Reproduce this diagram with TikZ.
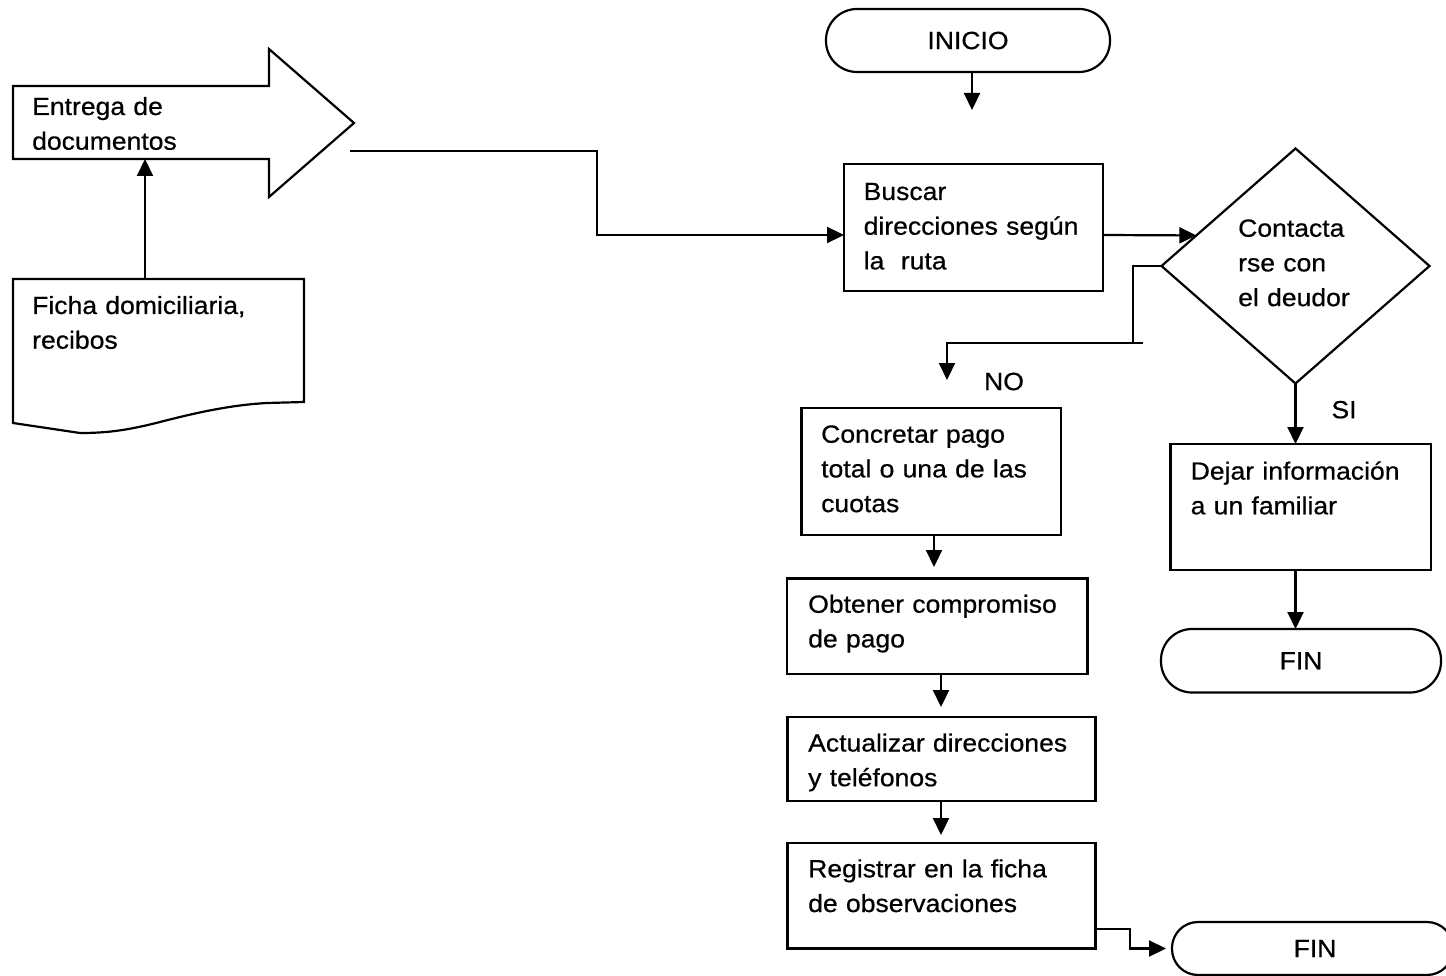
\documentclass[tikz,border=0pt]{standalone}
\usepackage{fontspec}
\setmainfont{Liberation Sans}[FakeStretch=1.07,FakeBold=0.6]
\usetikzlibrary{arrows.meta,shapes.geometric,calc}
\begin{document}
\begin{tikzpicture}[x=1pt,y=-1pt,
  font=\fontsize{24.8pt}{34.7pt}\selectfont,
  line/.style={draw, line width=2.2pt},
  flow/.style={line, -{Triangle[length=17pt,width=16pt]}},
  box/.style={draw, line width=2.2pt, inner sep=0pt, outer sep=0pt, rectangle},
  term/.style={box, rounded corners=#1},
  txt/.style={anchor=base west, inner sep=0pt, text width=300pt, align=left},
  lbl/.style={inner sep=0pt}]
\useasboundingbox (0,0) rectangle (1446,976);
\clip (0,0) rectangle (1446,976);

% block arrow "Entrega de documentos"
\draw[line, line join=miter] (13,86) -- (269,86) -- (269,49) -- (354,123)
  -- (269,197) -- (269,159) -- (13,159) -- cycle;
% document shape with wavy bottom
\draw[line] (13,279) -- (304,279) -- (304,402) -- (267,403)
  .. controls (230,405) and (195,413) .. (160,422)
  .. controls (125,431) and (105,433) .. (80,433) -- (13,423) -- cycle;

% flowchart nodes
\node[term=31pt, minimum width=284pt, minimum height=63pt] (inicio) at (968,40.5) {INICIO};
\node[box, minimum width=259pt, minimum height=127pt] (buscar) at (973.5,227.5) {};
\node[box, shape=diamond, minimum width=268pt, minimum height=235pt] (dec) at (1295.5,266) {};
\node[box, minimum width=259.6pt, minimum height=127pt] (concretar) at (931.2,471.5) {};
\node[box, minimum width=300.5pt, minimum height=95.5pt] (obtener) at (937.25,626.25) {};
\node[box, minimum width=308pt, minimum height=84pt] (actualizar) at (941.5,759) {};
\node[box, minimum width=308pt, minimum height=105.5pt] (registrar) at (941.5,895.75) {};
\node[box, minimum width=260.5pt, minimum height=126pt] (dejar) at (1300.75,507) {};
\node[term=31pt, minimum width=280pt, minimum height=63.5pt] (fin1) at (1301,660.75) {FIN};
\node[term=26pt, minimum width=281pt, minimum height=53pt] (fin2) at (1312.5,948.5) {\hspace*{5pt}FIN};

% texts
\node[txt] (t-entrega) at (32,115) {Entrega de\\documentos};
\node[txt] (t-ficha) at (32,314) {Ficha domiciliaria,\\recibos};
\node[txt] (t-buscar) at (863.5,200) {Buscar\\direcciones según\\la\ \ ruta};
\node[txt] (t-dec) at (1238,236.7) {Contacta\\rse con\\el deudor};
\node[txt] (t-concretar) at (821,442.7) {Concretar pago\\total o una de las\\cuotas};
\node[txt] (t-obtener) at (808,612.7) {Obtener compromiso\\de pago};
\node[txt] (t-actualizar) at (808,751.5) {Actualizar direcciones\\y teléfonos};
\node[txt] (t-registrar) at (808,877.3) {Registrar en la ficha\\de observaciones};
\node[txt] (t-dejar) at (1190.5,479.6) {Dejar información\\a un familiar};
\node[lbl] (no) at (1004,381.5) {NO};
\node[lbl] (si) at (1344,409.7) {SI};

% connectors
\coordinate (inicioend) at (972,110);
\draw[flow] (inicioend |- inicio.south) -- (inicioend);
\coordinate (entout) at (350,151);
\draw[flow] (entout) -- (597,151) |- ([yshift=-7.5pt]buscar.west);
\coordinate (fichatop) at (145,279);
\coordinate (entbottom) at (145,159);
\draw[flow] (fichatop) -- (entbottom);
\draw[flow] ([yshift=-7.5pt]buscar.east) -- ($(dec.west)!0.26!(dec.north)$);
\coordinate (nocorner) at (1133,343);
\draw[line] (dec.west) -| (nocorner);
\coordinate (nostub) at (1143,343);
\coordinate (noend) at (947,380);
\draw[flow] (nostub) -| (noend);
\draw[flow] (dec.south) -- (dec.south |- dejar.north);
\draw[flow] (dejar.south -| dec.south) -- (fin1.north -| dec.south);
\coordinate (a1) at (934,567);
\draw[flow] (a1 |- concretar.south) -- (a1);
\coordinate (a2) at (941,707);
\draw[flow] (a2 |- obtener.south) -- (a2);
\coordinate (a3) at (941,835);
\draw[flow] (a3 |- actualizar.south) -- (a3);
\draw[flow] ([yshift=-33.6pt]registrar.east) -- ++(34.5,0) |- ([xshift=-6pt]fin2.west);
\end{tikzpicture}
\end{document}
